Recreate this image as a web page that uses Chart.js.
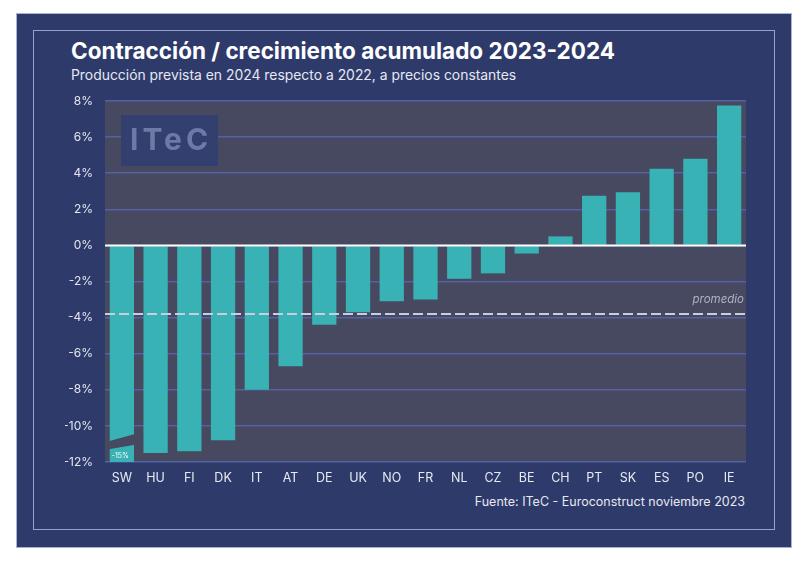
<!DOCTYPE html>
<html>
<head>
<meta charset="utf-8">
<script src="https://cdn.jsdelivr.net/npm/chart.js@4"></script>
<style>
  body { margin: 0; background: #fff; font-family: Inter, "Noto Sans", sans-serif; }
  #wrap { position: relative; width: 808px; height: 564px; }
  .panel { position: absolute; left: 16px; top: 13px; width: 774px; height: 533px; background: #2e3a6a; border: 1px solid #a9b2d4; }
  .frame { position: absolute; left: 33px; top: 30px; width: 740px; height: 498px; border: 1px solid #98a2c9; }
  .title { position: absolute; left: 71px; top: 37px; color: #fff; font-weight: 700; font-size: 22.5px; white-space: nowrap; }
  .subtitle { position: absolute; left: 71px; top: 67px; color: #e6e8f1; font-size: 13.9px; white-space: nowrap; }
  .footer { position: absolute; right: 63px; top: 494px; color: #e6e8f1; font-size: 12.5px; white-space: nowrap; }
  canvas { position: absolute; left: 0; top: 0; }
</style>
</head>
<body>
<div id="wrap">
  <div class="panel"></div>
  <div class="frame"></div>
  <div class="title">Contracción / crecimiento acumulado 2023-2024</div>
  <div class="subtitle">Producción prevista en 2024 respecto a 2022, a precios constantes</div>
  <div class="footer">Fuente: ITeC - Euroconstruct noviembre 2023</div>
  <canvas id="chart" width="808" height="564"></canvas>
</div>
<script>
// countries and accumulated growth 2023-2024 (%)
const countries = ['SW', 'HU', 'FI', 'DK', 'IT', 'AT', 'DE', 'UK', 'NO', 'FR', 'NL', 'CZ', 'BE', 'CH', 'PT', 'SK', 'ES', 'PO', 'IE'];
const growth = [-15, -11.5, -11.4, -10.8, -8.0, -6.7, -4.4, -3.7, -3.1, -3.0, -1.85, -1.55, -0.45, 0.5, 2.75, 2.95, 4.25, 4.8, 7.75];
const promedio = -3.8;
const yTicks = [8, 6, 4, 2, 0, -2, -4, -6, -8, -10, -12];

const plotBg = '#464960';

// background of the plot, logo, average line, broken SW bar
const decor = {
  id: 'decor',
  beforeDraw(chart) {
    const { ctx, chartArea: a } = chart;
    ctx.save();
    ctx.fillStyle = plotBg;
    ctx.fillRect(a.left, a.top, a.right - a.left, a.bottom - a.top);
    ctx.restore();
  },
  beforeDatasetsDraw(chart) {
    const { ctx, chartArea: a } = chart;
    ctx.save();
    ctx.fillStyle = '#33406f';
    ctx.fillRect(a.left + 16, a.top + 14, 97, 51);
    ctx.fillStyle = '#6e7aa6';
    ctx.font = 'bold 30px Inter, sans-serif';
    ctx.textBaseline = 'middle';
    ctx.letterSpacing = '4px';
    ctx.fillText('ITeC', a.left + 25, a.top + 40);
    ctx.restore();
  },
  afterDatasetsDraw(chart) {
    const { ctx, chartArea: a, scales: { x, y } } = chart;
    ctx.save();
    // zero line
    ctx.strokeStyle = '#ffffff';
    ctx.lineWidth = 2;
    ctx.beginPath();
    ctx.moveTo(a.left, y.getPixelForValue(0));
    ctx.lineTo(a.right, y.getPixelForValue(0));
    ctx.stroke();
    // average
    const py = y.getPixelForValue(promedio);
    ctx.strokeStyle = '#c9cddc';
    ctx.setLineDash([10, 4]);
    ctx.beginPath();
    ctx.moveTo(a.left, py);
    ctx.lineTo(a.right, py);
    ctx.stroke();
    ctx.setLineDash([]);
    ctx.fillStyle = '#aeb2c4';
    ctx.font = 'italic 11.5px Inter, sans-serif';
    ctx.textAlign = 'right';
    ctx.textBaseline = 'bottom';
    ctx.fillText('promedio', a.right - 2, py - 9);
    // axis break on the SW bar (value beyond -12)
    const bar = chart.getDatasetMeta(0).data[0];
    const l = bar.x - bar.width / 2 - 1, r = bar.x + bar.width / 2 + 1;
    ctx.fillStyle = plotBg;
    ctx.beginPath();
    ctx.moveTo(l, y.getPixelForValue(-10.85));
    ctx.lineTo(r, y.getPixelForValue(-10.45));
    ctx.lineTo(r, y.getPixelForValue(-11.05));
    ctx.lineTo(l, y.getPixelForValue(-11.3));
    ctx.closePath();
    ctx.fill();
    ctx.fillStyle = '#ffffff';
    ctx.font = '7px Inter, sans-serif';
    ctx.textAlign = 'left';
    ctx.textBaseline = 'middle';
    ctx.fillText(growth[0] + '%', l + 3, y.getPixelForValue(-11.65));
    ctx.restore();
  }
};

new Chart(document.getElementById('chart'), {
  type: 'bar',
  data: {
    labels: countries,
    datasets: [{
      data: growth,
      backgroundColor: '#38b2b4',
      barPercentage: 0.72,
      categoryPercentage: 1
    }]
  },
  options: {
    responsive: false,
    animation: false,
    layout: { padding: { left: 65, top: 101, right: 62, bottom: 72 } },
    plugins: { legend: { display: false }, tooltip: { enabled: false } },
    scales: {
      x: {
        grid: { display: false, drawTicks: false },
        border: { display: false },
        ticks: { color: '#e8eaf2', font: { family: 'Inter', size: 12.5 }, padding: 9 },
        afterFit: s => { s.height = 30; }
      },
      y: {
        min: -12,
        max: 8,
        afterBuildTicks: s => { s.ticks = yTicks.map(v => ({ value: v })); },
        afterFit: s => { s.width = 40; },
        grid: { color: '#5461a2', lineWidth: 1.5, drawTicks: false },
        border: { display: false },
        ticks: { color: '#e3e6f0', font: { family: 'Inter', size: 12 }, padding: 12, callback: v => v + '%' }
      }
    }
  },
  plugins: [decor]
});
</script>
</body>
</html>
